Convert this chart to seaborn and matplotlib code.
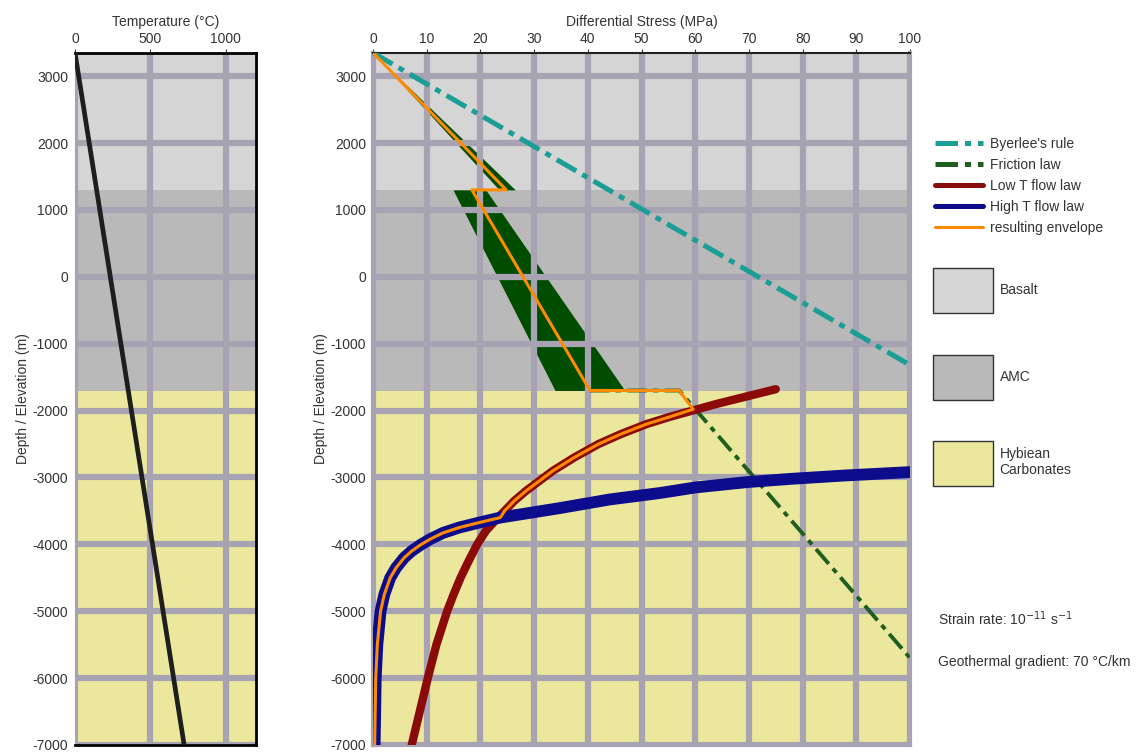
import numpy as np
import seaborn as sns
import matplotlib.pyplot as plt
from matplotlib.patches import Patch
from matplotlib.lines import Line2D

sns.set_style("white")
plt.rcParams['font.family'] = ['Liberation Sans', 'DejaVu Sans']
plt.rcParams['font.size'] = 10
plt.rcParams['axes.unicode_minus'] = False

### data
ztop, zbot = 3350, -7000
layer_names = ['Basalt', 'AMC', 'Hybiean\nCarbonates']
layer_top = [3350, 1300, -1700]
layer_bot = [1300, -1700, -7000]
layer_cols = ['#d5d5d5', '#b9b9b9', '#ebe89d']

# geotherm (70 C/km)
geo_depth = [3350, -7000]
geo_temp = [0, 724]

# Byerlee's rule
byer_depth = [3350, -1320]
byer_stress = [0, 100]

# friction law band (basalt + AMC) and dashed line in carbonates
fric_depth_1 = [3350, 1300]
fric_lo_1 = [0, 23.5]
fric_hi_1 = [0, 26.5]
fric_depth_2 = [1300, -1700]
fric_lo_2 = [14.9, 33.9]
fric_hi_2 = [21.0, 46.9]
fric_line_depth = [-1700, -1700, -5700]
fric_line_stress = [40.4, 57.0, 100.0]

# low T flow law
lowT_depth = [-1680, -1800, -1900, -2000, -2100, -2200, -2350, -2500, -2700, -2900, -3050,
              -3200, -3350, -3500, -3650, -3800, -4000, -4250, -4500, -4750, -5000,
              -5500, -6000, -6500, -7000]
lowT_stress = [75, 69, 64, 59.5, 55, 51, 46.2, 42, 37.5, 33.5, 31,
               28.5, 26.3, 24.5, 22.7, 21, 19.4, 17.8, 16.3, 15, 13.8,
               11.8, 10.2, 8.7, 7.2]

# high T flow law
highT_depth = [-2920, -2970, -3020, -3070, -3150, -3233, -3330, -3458, -3545, -3600, -3680,
               -3750, -3830, -3920, -4000, -4100, -4200, -4350, -4500, -4750, -5000,
               -5500, -6000, -6500, -7000]
highT_stress = [100, 88, 78, 69.6, 60, 53.4, 44, 34.8, 28, 23.7, 19.5,
                16, 13, 10.7, 9, 7.2, 5.8, 4.3, 3.2, 2.1, 1.4,
                0.8, 0.5, 0.4, 0.3]

# resulting envelope
env_depth = [3350, 1300, 1300, -1700, -1700, -1980, -2100, -2200, -2350, -2500, -2700,
             -2900, -3050, -3200, -3350, -3500, -3600, -3680, -3750, -3830, -3920, -4000,
             -4100, -4200, -4350, -4500, -4750, -5000, -5500, -6000, -6500, -7000]
env_stress = [0, 24.8, 18.4, 40.4, 57.0, 59.6, 55, 51, 46.2, 42, 37.5,
              33.5, 31, 28.5, 26.3, 24.5, 23.7, 19.5, 16, 13, 10.7, 9,
              7.2, 5.8, 4.3, 3.2, 2.1, 1.4, 0.8, 0.5, 0.4, 0.3]

gridcol = '#a7a3b3'

fig = plt.figure(figsize=(11.45, 7.54), dpi=100)
ax1 = fig.add_axes([0.0655, 0.012, 0.158, 0.918])
ax2 = fig.add_axes([0.3258, 0.012, 0.469, 0.918])

for ax in (ax1, ax2):
    for t, b, c in zip(layer_top, layer_bot, layer_cols):
        ax.axhspan(b, t, color=c, zorder=0, lw=0)
    ax.set_ylim(zbot, ztop)
    ax.set_yticks(np.arange(-7000, 3001, 1000))
    ax.xaxis.tick_top()
    ax.xaxis.set_label_position('top')
    ax.grid(True, color=gridcol, lw=4.5)
    ax.set_axisbelow(True)
    ax.set_ylabel('Depth / Elevation (m)', color='#333333', labelpad=2)
    ax.tick_params(length=3, color='#333333', labelcolor='#333333', pad=2)

### temperature panel
ax1.set_xlim(0, 1200)
ax1.set_xticks([0, 500, 1000])
ax1.set_xlabel('Temperature (°C)', color='#333333')
sns.lineplot(x=geo_temp, y=geo_depth, sort=False, estimator=None, color='#1e1e1e',
             lw=3.4, ax=ax1, zorder=3)
for s in ['top', 'right', 'bottom']:
    ax1.spines[s].set_color('black')
    ax1.spines[s].set_linewidth(2)
ax1.spines['left'].set_color(gridcol)

### stress panel
ax2.set_xlim(0, 100)
ax2.set_xticks(np.arange(0, 101, 10))
ax2.set_xlabel('Differential Stress (MPa)', color='#333333')
for s in ['left', 'right', 'bottom']:
    ax2.spines[s].set_color(gridcol)
    ax2.spines[s].set_linewidth(3)
ax2.spines['top'].set_color('#222222')
ax2.spines['top'].set_linewidth(1.5)

green = '#004d00'
ax2.fill_betweenx(fric_depth_1, fric_lo_1, fric_hi_1, color=green, lw=0, zorder=0.3)
ax2.fill_betweenx(fric_depth_2, fric_lo_2, fric_hi_2, color=green, lw=0, zorder=0.3)

sns.lineplot(x=byer_stress, y=byer_depth, sort=False, estimator=None, color='#1a9e96',
             lw=3.6, ax=ax2, zorder=3)
ax2.lines[-1].set_dashes([4.5, 1.4, 1.2, 1.4])

sns.lineplot(x=fric_line_stress, y=fric_line_depth, sort=False, estimator=None, color='#1f5e1f',
             lw=2.8, ax=ax2, zorder=3)
ax2.lines[-1].set_dashes([5, 1.6, 1.4, 1.6])

sns.lineplot(x=lowT_stress, y=lowT_depth, sort=False, estimator=None, color='#8b0a0a',
             lw=6, ax=ax2, zorder=4)
sns.lineplot(x=highT_stress, y=highT_depth, sort=False, estimator=None, color='#0c0c8c',
             lw=8.5, ax=ax2, zorder=4)
sns.lineplot(x=env_stress, y=env_depth, sort=False, estimator=None, color='#ff8c00',
             lw=2.2, ax=ax2, zorder=5)

### legends
h1 = [Line2D([], [], color='#1a9e96', lw=3.6, dashes=[4.5, 1.4, 1.2, 1.4]),
      Line2D([], [], color='#1f5e1f', lw=3.6, dashes=[4.5, 1.4, 1.2, 1.4]),
      Line2D([], [], color='#8b0a0a', lw=3.6),
      Line2D([], [], color='#0c0c8c', lw=3.6),
      Line2D([], [], color='#ff8c00', lw=2.2)]
l1 = ['Byerlee\'s rule', 'Friction law', 'Low T flow law', 'High T flow law',
      'resulting envelope']
fig.legend(h1, l1, loc='upper left', bbox_to_anchor=(0.806, 0.835), frameon=False,
           handlelength=3.4, handletextpad=0.5, labelspacing=0.5, fontsize=10,
           labelcolor='#333333')

h2 = [Patch(facecolor=c, edgecolor='#333333', lw=1) for c in layer_cols]
fig.legend(h2, layer_names, loc='upper left', bbox_to_anchor=(0.804, 0.661), frameon=False,
           handlelength=4.3, handleheight=4.6, handletextpad=0.5, labelspacing=3.0,
           fontsize=10, labelcolor='#333333')

fig.text(0.819, 0.171, 'Strain rate: 10$^{-11}$ s$^{-1}$', fontsize=10, color='#333333')
fig.text(0.819, 0.117, 'Geothermal gradient: 70 °C/km', fontsize=10, color='#333333')

fig.savefig('out.png', dpi=100)
